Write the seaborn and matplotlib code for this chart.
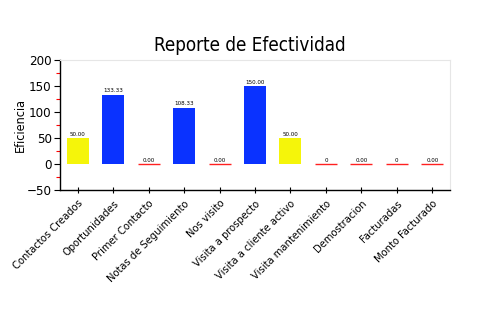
import matplotlib
matplotlib.use("Agg")
import matplotlib.pyplot as plt
import seaborn as sns
import pandas as pd
from matplotlib.ticker import MultipleLocator

categories = ["Contactos Creados", "Oportunidades", "Primer Contacto", "Notas de Seguimiento",
              "Nos visito", "Visita a prospecto", "Visita a cliente activo", "Visita mantenimiento",
              "Demostracion", "Facturadas", "Monto Facturado"]
values = [50.00, 133.33, 0.00, 108.33, 0.00, 150.00, 50.00, 0, 0.00, 0, 0.00]
labels = ["50.00", "133.33", "0.00", "108.33", "0.00", "150.00", "50.00", "0", "0.00", "0", "0.00"]
bar_colors = ["#F5F50A", "#0A32FF", "#FF2020", "#0A32FF", "#FF2020", "#0A32FF",
              "#F5F50A", "#FF2020", "#FF2020", "#FF2020", "#FF2020"]

sns.set_style("white")
plt.rcParams["font.family"] = ["DejaVu Sans"]
plt.rcParams["font.stretch"] = "condensed"
plt.rcParams["text.color"] = "black"
plt.rcParams["axes.labelcolor"] = "black"
plt.rcParams["xtick.color"] = "black"
plt.rcParams["ytick.color"] = "black"

df = pd.DataFrame({"cat": categories, "val": values})

fig = plt.figure(figsize=(5, 3.3), dpi=100)
ax = fig.add_axes([0.12, 0.424, 0.78, 0.394])
sns.barplot(data=df, x="cat", y="val", hue="cat", palette=bar_colors, legend=False,
            width=0.62, ax=ax, saturation=1)

for p, v, c in zip(ax.patches, values, bar_colors):
    if v == 0:
        p.set_edgecolor(c)
        p.set_linewidth(1.0)
    else:
        p.set_edgecolor("none")

for i, (v, lab) in enumerate(zip(values, labels)):
    ax.text(i, v + 3, lab, ha="center", va="bottom", fontsize=4.5, color="black")

ax.set_ylim(-50, 200)
ax.set_xlim(-0.5, 10.5)
ax.yaxis.set_major_locator(MultipleLocator(50))
ax.yaxis.set_minor_locator(MultipleLocator(25))
ax.tick_params(axis="y", which="major", direction="out", length=4, width=0.8, labelsize=9.5, left=True, pad=2)
ax.tick_params(axis="y", which="minor", direction="out", length=3, width=0.8, color="red", left=True)
ax.tick_params(axis="x", which="major", direction="inout", length=5, width=0.8, bottom=True, labelsize=8)
ax.set_xticks(range(len(categories)))
ax.set_xticklabels(categories, rotation=45, ha="right", rotation_mode="anchor")

for s in ["left", "bottom"]:
    ax.spines[s].set_color("black")
    ax.spines[s].set_linewidth(1.0)
for s in ["top", "right"]:
    ax.spines[s].set_color("#e6e6e6")
    ax.spines[s].set_linewidth(0.8)

ax.set_xlabel("")
ax.set_ylabel("Eficiencia", fontsize=9, labelpad=0)
fig.suptitle("Reporte de Efectividad", fontsize=13.5, y=0.89)

fig.savefig("out.png", dpi=100)
